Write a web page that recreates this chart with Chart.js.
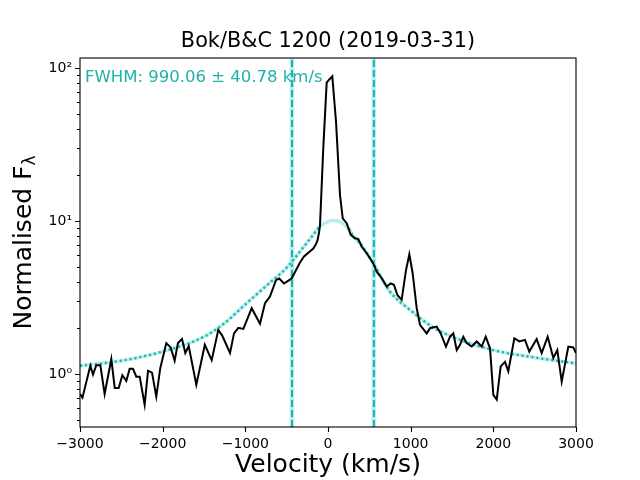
<!DOCTYPE html>
<html>
<head>
<meta charset="utf-8">
<script src="https://cdn.jsdelivr.net/npm/chart.js@4.4.0/dist/chart.umd.min.js"></script>
<style>
  body { margin: 0; background: #fff; }
  #wrap { width: 640px; height: 480px; }
</style>
</head>
<body>
<div id="wrap"><canvas id="specChart" width="640" height="480"></canvas></div>
<script>
// Spectrum (velocity in km/s, normalised flux)
const velocity = [-3000, -2970, -2875, -2843, -2803, -2754, -2702, -2621, -2580, -2532, -2488, -2440, -2399, -2359,
  -2319, -2278, -2218, -2177, -2129, -2077, -2029, -1956, -1903, -1855, -1815, -1766, -1726, -1685, -1593,
  -1490, -1407, -1327, -1280, -1185, -1137, -1085, -1024, -923, -823, -762, -702, -630, -590, -532, -470,
  -440, -339, -290, -238, -178, -150, -129, -110, -97, -57, -16, 16, 52, 97, 145, 178, 226, 275, 327, 367, 407,
  468, 508, 548, 589, 650, 710, 758, 798, 839, 891, 944, 984, 1024, 1073, 1113, 1194, 1234, 1315, 1363,
  1427, 1476, 1516, 1557, 1597, 1637, 1678, 1738, 1799, 1859, 1908, 1960, 2000, 2041, 2089, 2141, 2181,
  2254, 2314, 2383, 2435, 2524, 2585, 2657, 2726, 2774, 2827, 2907, 2967, 3000];
const flux = [0.74, 0.70, 1.13, 0.99, 1.14, 1.14, 0.74, 1.25, 0.81, 0.81, 0.98, 0.90, 1.08, 1.08,
  0.96, 0.96, 0.63, 1.05, 1.02, 0.71, 1.09, 1.59, 1.49, 1.22, 1.59, 1.69, 1.37, 1.52, 0.85,
  1.55, 1.23, 1.94, 1.78, 1.37, 1.84, 2.0, 1.97, 2.69, 2.13, 2.9, 3.2, 4.1, 4.2, 3.9, 4.1,
  4.2, 5.35, 5.85, 6.2, 6.6, 6.97, 7.4, 8.3, 9.3, 30, 80, 84, 88, 44.5, 14.8, 10.4, 9.67, 8.1, 7.7, 7.6, 6.8,
  6.15, 5.7, 5.28, 4.66, 4.22, 3.72, 3.9, 3.82, 3.28, 3.05, 4.78, 6.05, 4.55, 2.69, 2.09, 1.84, 1.99, 2.04, 1.84,
  1.51, 1.75, 1.84, 1.43, 1.55, 1.75, 1.59, 1.51, 1.63, 1.51, 1.75, 1.47, 0.73, 0.68, 1.12, 1.20, 1.04,
  1.71, 1.63, 1.67, 1.40, 1.69, 1.37, 1.75, 1.27, 1.43, 0.89, 1.51, 1.49, 1.37];

// Fitted profile
const fitVel = [-3000, -2500, -2000, -1500, -1250, -1000, -750, -500, -300, -180, -100, 0, 60, 140, 250,
  310, 390, 550, 750, 1000, 1250, 1500, 2000, 2500, 3000];
const fitFlux = [1.13, 1.22, 1.40, 1.75, 2.15, 2.85, 3.75, 4.95, 6.7, 8.1, 9.2, 9.9, 10.05, 9.9, 8.9,
  7.9, 7.1, 5.25, 3.45, 2.6, 2.05, 1.75, 1.43, 1.28, 1.17];
// core excluded from the dotted wing fit
const coreLo = -90, coreHi = 240;

const fwhmEdges = [-435, 555];
const fwhmText = 'FWHM: 990.06 \u00b1 40.78 km/s';
const titleText = 'Bok/B&C 1200 (2019-03-31)';

const xTicks = [-3000, -2000, -1000, 0, 1000, 2000, 3000];
const yMajor = [1, 10, 100];
const yMin = 0.45, yMax = 116;

const teal = '#20B2AA';
const pale = 'rgba(160,232,232,0.75)';
const FONT = '"DejaVu Sans", sans-serif';

function pts(xs, ys) { return xs.map((v, i) => ({ x: v, y: ys[i] })); }

const datasets = [{
  label: 'spectrum',
  data: pts(velocity, flux),
  borderColor: '#000',
  borderWidth: 2,
  pointRadius: 0,
  tension: 0,
  order: 0
}, {
  label: 'fit wings',
  data: fitVel.map((v, i) => ({ x: v, y: (v > coreLo && v < coreHi) ? null : fitFlux[i] })),
  borderColor: teal,
  borderWidth: 2.5,
  borderDash: [2, 3],
  pointRadius: 0,
  cubicInterpolationMode: 'monotone',
  spanGaps: false,
  order: 1
}, {
  label: 'fit',
  data: pts(fitVel, fitFlux),
  borderColor: pale,
  borderWidth: 3.5,
  pointRadius: 0,
  cubicInterpolationMode: 'monotone',
  order: 2
}];

fwhmEdges.forEach(function(e) {
  datasets.push({
    data: [{ x: e, y: yMin }, { x: e, y: yMax }],
    borderColor: pale, borderWidth: 4.5, pointRadius: 0, order: 4
  });
  datasets.push({
    data: [{ x: e, y: yMin }, { x: e, y: yMax }],
    borderColor: teal, borderWidth: 2, borderDash: [7, 3], pointRadius: 0, order: 3
  });
});

const decor = {
  id: 'decor',
  afterDraw(chart) {
    const ctx = chart.ctx, a = chart.chartArea;
    const xs = chart.scales.x, ys = chart.scales.y;
    ctx.save();
    ctx.strokeStyle = '#000';
    ctx.lineWidth = 1.1;
    ctx.strokeRect(a.left, a.top, a.right - a.left, a.bottom - a.top);

    // tick marks
    ctx.beginPath();
    xTicks.forEach(function(v) {
      const px = Math.round(xs.getPixelForValue(v)) + 0.5;
      ctx.moveTo(px, a.bottom); ctx.lineTo(px, a.bottom + 5);
    });
    for (let d = 0.1; d <= 100; d *= 10) {
      for (let m = 1; m <= 9; m++) {
        const v = d * m;
        if (v < yMin || v > yMax) continue;
        const py = Math.round(ys.getPixelForValue(v)) + 0.5;
        const len = m === 1 ? 5 : 3;
        ctx.moveTo(a.left, py); ctx.lineTo(a.left - len, py);
      }
    }
    ctx.stroke();

    // title
    ctx.fillStyle = '#000';
    ctx.textAlign = 'center';
    ctx.textBaseline = 'middle';
    ctx.font = '20.8px ' + FONT;
    ctx.fillText(titleText, (a.left + a.right) / 2, 42);

    // x label
    ctx.font = '25px ' + FONT;
    ctx.fillText('Velocity (km/s)', (a.left + a.right) / 2, 465);

    // y label with subscript lambda
    ctx.save();
    ctx.translate(24, (a.top + a.bottom) / 2);
    ctx.rotate(-Math.PI / 2);
    ctx.font = '25px ' + FONT;
    const main = 'Normalised F';
    const w1 = ctx.measureText(main).width;
    ctx.font = '17px ' + FONT;
    const w2 = ctx.measureText('\u03bb').width;
    const x0 = -(w1 + w2) / 2;
    ctx.textAlign = 'left';
    ctx.font = '25px ' + FONT;
    ctx.fillText(main, x0, 0);
    ctx.font = '17px ' + FONT;
    ctx.fillText('\u03bb', x0 + w1, 7);
    ctx.restore();

    // FWHM annotation
    ctx.textAlign = 'left';
    ctx.textBaseline = 'alphabetic';
    ctx.fillStyle = teal;
    ctx.font = '16.5px ' + FONT;
    ctx.fillText(fwhmText, a.left + 5, 82);
    ctx.restore();
  }
};

new Chart(document.getElementById('specChart').getContext('2d'), {
  type: 'line',
  data: { datasets: datasets },
  options: {
    responsive: false,
    animation: false,
    events: [],
    layout: { padding: { top: 58, right: 64, bottom: 0, left: 0 } },
    plugins: { legend: { display: false }, tooltip: { enabled: false }, title: { display: false } },
    scales: {
      x: {
        type: 'linear', min: -3000, max: 3000,
        grid: { display: false, drawTicks: false },
        border: { display: false },
        afterBuildTicks: function(s) { s.ticks = xTicks.map(v => ({ value: v })); },
        afterFit: function(s) { s.height = 53; },
        ticks: {
          padding: 9, color: '#000', font: { family: FONT, size: 14 },
          maxRotation: 0, autoSkip: false,
          callback: function(v) { return v < 0 ? '\u2212' + Math.abs(v) : String(v); }
        }
      },
      y: {
        type: 'logarithmic', min: yMin, max: yMax,
        grid: { display: false, drawTicks: false },
        border: { display: false },
        afterBuildTicks: function(s) { s.ticks = yMajor.map(v => ({ value: v, major: true })); },
        afterFit: function(s) { s.width = 80; },
        ticks: {
          padding: 8, color: '#000', font: { family: FONT, size: 14 }, autoSkip: false,
          callback: function(v) {
            const sup = { '0': '\u2070', '1': '\u00b9', '2': '\u00b2' };
            return '10' + sup[String(Math.round(Math.log10(v)))];
          }
        }
      }
    }
  },
  plugins: [decor]
});
</script>
</body>
</html>
